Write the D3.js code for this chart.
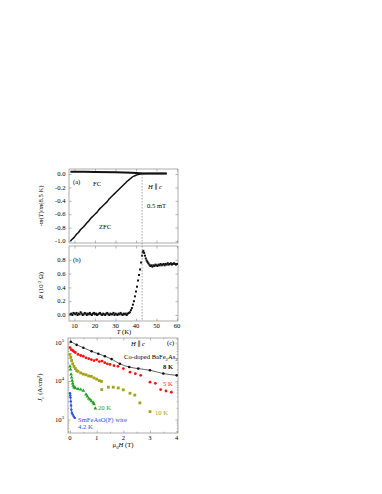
<!DOCTYPE html>
<html>
<head>
<meta charset="utf-8">
<script src="https://cdn.jsdelivr.net/npm/d3@7"></script>
<style>
  body { margin: 0; background: #fff; }
  text { font-family: "Liberation Serif", "DejaVu Serif", serif; }
</style>
</head>
<body>
<div id="container"></div>
<script>
// ---- data ----
// (a) normalised magnetisation [T (K), -m(T)/m(8.5K)]
const zfcCurve = [[8,-1.0],[9,-0.97],[10,-0.94],[11,-0.9],[12,-0.87],[13,-0.83],[14,-0.8],[15,-0.77],[16,-0.73],[17,-0.7],
  [18,-0.66],[19,-0.63],[20,-0.6],[21,-0.57],[22,-0.53],[23,-0.5],[24,-0.47],[25,-0.44],[26,-0.41],[27,-0.37],[28,-0.34],
  [29,-0.31],[30,-0.28],[31,-0.25],[32,-0.22],[33,-0.19],[34,-0.16],[35,-0.13],[36,-0.1],[37,-0.075],[38,-0.05],[39,-0.032],
  [40,-0.018],[41,-0.008],[42,0.0],[43,0.005],[45,0.008],[50,0.008],[55,0.008]]
const fcCurve = [[8,0.035],[15,0.033],[20,0.03],[30,0.025],[38,0.018],[42,0.012],[44,0.008],[50,0.008],[55,0.008]]
const tcLine = 43

// (b) resistance [T (K), R (10^-2 Ohm)]
const resistance = [[8,0.01],[8.5,0.02],[9,0.0],[9.5,0.03],[10,0.02],[10.5,0.01],[11,0.03],[11.5,0.0],[12,0.02],[12.5,0.01],
  [13,0.04],[13.5,0.02],[14,0.0],[14.5,0.01],[15,0.03],[15.5,0.02],[16,0.0],[16.5,0.02],[17,0.01],[17.5,0.03],[18,0.01],
  [18.5,0.0],[19,0.02],[19.5,0.03],[20,0.01],[20.5,0.02],[21,0.0],[21.5,0.01],[22,0.02],[22.5,0.03],[23,0.01],[23.5,0.0],
  [24,0.02],[24.5,0.01],[25,0.0],[25.5,0.02],[26,0.03],[26.5,0.01],[27,0.0],[27.5,0.02],[28,0.01],[28.5,0.01],[29,0.03],
  [29.5,0.0],[30,0.02],[30.5,0.01],[31,0.0],[31.5,0.02],[32,0.01],[32.5,0.03],[33,0.01],[33.5,0.0],[34,0.02],[34.5,0.01],
  [35,0.02],[35.5,0.0],[36,0.02],[36.5,0.03],[37,0.04],[37.5,0.07],[38,0.1],[38.5,0.15],[39,0.2],[39.5,0.27],[40,0.34],
  [40.5,0.41],[41,0.5],[41.5,0.58],[42,0.66],[42.5,0.76],[43,0.86],[43.3,0.91],[43.6,0.93],[44,0.9],[44.4,0.86],[44.8,0.82],
  [45.2,0.79],[45.6,0.77],[46,0.75],[46.5,0.73],[47,0.71],[47.5,0.72],[48,0.7],[48.5,0.72],[49,0.71],[49.5,0.73],[50,0.72],
  [50.5,0.71],[51,0.73],[51.5,0.72],[52,0.74],[52.5,0.72],[53,0.73],[53.5,0.74],[54,0.72],[54.5,0.74],[55,0.73],[55.5,0.75],
  [56,0.73],[56.5,0.74],[57,0.75],[57.5,0.73],[58,0.74],[58.5,0.75],[59,0.74],[59.5,0.73],[60,0.74]]

// (c) critical current density [mu0H (T), Jc (A/cm^2)]
const jcCo8K = [[0.03,105000],[0.25,87000],[0.5,73000],[0.81,59000],[1.06,51000],[1.31,44000],[1.56,37000],
  [1.87,28000],[2.22,23000],[2.56,21000],[3.0,19000],[3.5,15600],[4.0,14000]]
const jc5K = [[0.0,74000],[0.05,65000],[0.1,62000],[0.15,58000],[0.2,55000],[0.3,49000],[0.4,46000],[0.5,44000],
  [0.6,40000],[0.7,38000],[0.8,36000],[0.9,34000],[1.0,36000],[1.1,32000],[1.2,33000],[1.3,30000],[1.4,28000],
  [1.5,27000],[1.65,25000],[1.8,24000],[2.0,21000],[2.25,17000],[2.45,15500],[2.65,14000],[3.0,9300],[3.2,8700],
  [3.4,6000],[3.6,5500],[3.8,5100]]
const jc10K = [[0.0,49000],[0.03,41000],[0.06,34000],[0.1,28000],[0.15,24000],[0.2,21000],[0.25,18600],[0.3,17800],
  [0.4,16200],[0.5,15100],[0.6,14500],[0.7,13500],[0.8,13200],[0.9,12000],[1.0,11200],[1.1,10200],[1.18,9800],
  [1.19,6000],[1.44,6900],[1.62,6900],[1.81,6600],[2.0,5900],[2.25,4800],[2.43,4300],[2.62,2700],[3.0,1600]]
const jc20K = [[0.0,24000],[0.02,20000],[0.04,14800],[0.06,12300],[0.08,10200],[0.1,8700],[0.12,7600],[0.15,6800],
  [0.2,6500],[0.3,6200],[0.4,6000],[0.5,5600],[0.6,4500],[0.65,4000],[0.7,3500],[0.75,3300],[0.8,3000],[0.87,2750],
  [0.9,2500],[0.95,1950]]
const jcWire = [[0.0,4800],[0.01,4200],[0.02,3700],[0.03,2950],[0.04,2300],[0.05,1800],[0.07,1500],[0.1,1350],
  [0.14,1200],[0.18,1100]]

const tempTicks = [10, 20, 30, 40, 50, 60]
const magTicks = [0, -0.2, -0.4, -0.6, -0.8, -1.0]
const resTicks = [0, 0.2, 0.4, 0.6, 0.8]
const fieldTicks = [0, 1, 2, 3, 4]
const jcTicks = [1e3, 1e4, 1e5]

// ---- layout ----
const w = 382
const h = 494
const frameColor = '#8a8a8a'
const fs = 6.6

const svg = d3.select('#container').append('svg')
  .attr('width', w).attr('height', h)
  .style('background', 'white')

const panelA = { left: 69, right: 178, top: 169, bottom: 243 }
const panelB = { left: 69, right: 178, top: 246, bottom: 321 }
const panelC = { left: 68, right: 178, top: 338, bottom: 433 }

const scaleT = d3.scaleLinear().domain([7.32, 60.5]).range([panelA.left, panelA.right])
const scaleM = d3.scaleLinear().domain([-1.03, 0.075]).range([panelA.bottom, panelA.top])
const scaleR = d3.scaleLinear().domain([-0.087, 1.0]).range([panelB.bottom, panelB.top])
const scaleH = d3.scaleLinear().domain([-0.075, 4.05]).range([panelC.left, panelC.right])
const scaleJ = d3.scaleLog().domain([Math.pow(10, 2.649), Math.pow(10, 5.117)]).range([panelC.bottom, panelC.top])

const fmt = d => d3.format('.1f')(d).replace('−', '-')

// frame + inward ticks on all four sides
const drawFrame = (p, sx, sy, xTicks, yTicks, xMinor, yMinor) => {
  const g = svg.append('g')
  g.append('rect')
    .attr('x', p.left).attr('y', p.top)
    .attr('width', p.right - p.left).attr('height', p.bottom - p.top)
    .attr('fill', 'none').attr('stroke', frameColor).attr('stroke-width', 0.7)
  const axes = [
    [d3.axisBottom(sx).tickValues(xTicks).tickSizeInner(-2.5), `translate(0,${p.bottom})`],
    [d3.axisTop(sx).tickValues(xTicks).tickSizeInner(-2.5), `translate(0,${p.top})`],
    [d3.axisLeft(sy).tickValues(yTicks).tickSizeInner(-2.5), `translate(${p.left},0)`],
    [d3.axisRight(sy).tickValues(yTicks).tickSizeInner(-2.5), `translate(${p.right},0)`]
  ]
  if (xMinor) {
    axes.push([d3.axisBottom(sx).tickValues(xMinor).tickSizeInner(-1.3), `translate(0,${p.bottom})`])
    axes.push([d3.axisTop(sx).tickValues(xMinor).tickSizeInner(-1.3), `translate(0,${p.top})`])
  }
  if (yMinor) {
    axes.push([d3.axisLeft(sy).tickValues(yMinor).tickSizeInner(-1.3), `translate(${p.left},0)`])
    axes.push([d3.axisRight(sy).tickValues(yMinor).tickSizeInner(-1.3), `translate(${p.right},0)`])
  }
  axes.forEach(([axis, tr]) => {
    const a = g.append('g').attr('transform', tr).call(axis.tickSizeOuter(0).tickFormat(''))
    a.select('.domain').remove()
    a.selectAll('line').attr('stroke', frameColor).attr('stroke-width', 0.6)
  })
  return g
}

const leftLabels = (vals, sy, x, f) => {
  svg.append('g').selectAll('text').data(vals).enter().append('text')
    .attr('x', x).attr('y', d => sy(d)).attr('dy', '0.34em')
    .attr('text-anchor', 'end').attr('font-size', fs)
    .text(f)
}

const bottomLabels = (vals, sx, y, f) => {
  svg.append('g').selectAll('text').data(vals).enter().append('text')
    .attr('x', d => sx(d)).attr('y', y)
    .attr('text-anchor', 'middle').attr('font-size', fs)
    .text(f)
}

// ---------------- panel (a) ----------------
drawFrame(panelA, scaleT, scaleM, tempTicks, magTicks)
leftLabels(magTicks, scaleM, 65.5, d => fmt(d))

const lineA = d3.line().x(d => scaleT(d[0])).y(d => scaleM(d[1]))
svg.append('path').datum(fcCurve).attr('d', lineA)
  .attr('fill', 'none').attr('stroke', '#111').attr('stroke-width', 2)
svg.append('path').datum(zfcCurve).attr('d', lineA.curve(d3.curveMonotoneX))
  .attr('fill', 'none').attr('stroke', '#111').attr('stroke-width', 1.5)

svg.append('text').attr('x', 73).attr('y', 184).attr('font-size', fs).text('(a)')
svg.append('text').attr('x', 93).attr('y', 186).attr('font-size', fs).text('FC')
svg.append('text').attr('x', 99).attr('y', 229).attr('font-size', fs).text('ZFC')
const hc1 = svg.append('text').attr('x', 148).attr('y', 189).attr('font-size', fs)
hc1.append('tspan').attr('font-style', 'italic').text('H')
hc1.append('tspan').text(' \u2225 ')
hc1.append('tspan').attr('font-style', 'italic').text('c')
svg.append('text').attr('x', 147).attr('y', 208).attr('font-size', fs).text('0.5 mT')

const ylabA = svg.append('text')
  .attr('transform', `translate(43,${(panelA.top + panelA.bottom) / 2}) rotate(-90)`)
  .attr('text-anchor', 'middle').attr('font-size', fs)
ylabA.append('tspan').text('-')
ylabA.append('tspan').attr('font-style', 'italic').text('m')
ylabA.append('tspan').text('(')
ylabA.append('tspan').attr('font-style', 'italic').text('T')
ylabA.append('tspan').text(')/')
ylabA.append('tspan').attr('font-style', 'italic').text('m')
ylabA.append('tspan').text('(8.5 K)')

// ---------------- panel (b) ----------------
drawFrame(panelB, scaleT, scaleR, tempTicks, resTicks)
leftLabels(resTicks, scaleR, 65.5, d => fmt(d))
bottomLabels(tempTicks, scaleT, 328, d => d)

svg.append('g').selectAll('rect').data(resistance).enter().append('rect')
  .attr('x', d => scaleT(d[0]) - 1).attr('y', d => scaleR(d[1]) - 1)
  .attr('width', 2).attr('height', 2).attr('fill', '#111')

svg.append('text').attr('x', 73).attr('y', 262).attr('font-size', fs).text('(b)')

const xlabB = svg.append('text').attr('x', 124).attr('y', 333.5)
  .attr('text-anchor', 'middle').attr('font-size', fs)
xlabB.append('tspan').attr('font-style', 'italic').text('T')
xlabB.append('tspan').text(' (K)')

const ylabB = svg.append('text')
  .attr('transform', `translate(43,${(panelB.top + panelB.bottom) / 2 + 2}) rotate(-90)`)
  .attr('text-anchor', 'middle').attr('font-size', fs)
ylabB.append('tspan').attr('font-style', 'italic').text('R')
ylabB.append('tspan').text(' (10')
ylabB.append('tspan').attr('dy', -2.5).attr('font-size', fs * 0.7).text('-2')
ylabB.append('tspan').attr('dy', 2.5).text(' \u03a9)')

// dashed Tc line through (a) and (b)
svg.append('line')
  .attr('x1', scaleT(tcLine)).attr('x2', scaleT(tcLine))
  .attr('y1', scaleM(0)).attr('y2', panelB.bottom)
  .attr('stroke', '#666').attr('stroke-width', 0.6).attr('stroke-dasharray', '1.5,1.5')

// ---------------- panel (c) ----------------
const jcMinor = []
;[1e2, 1e3, 1e4, 1e5].forEach(dec => [2, 3, 4, 5, 6, 7, 8, 9].forEach(k => {
  const v = dec * k
  if (v > scaleJ.domain()[0] && v < scaleJ.domain()[1]) jcMinor.push(v)
}))
drawFrame(panelC, scaleH, scaleJ, fieldTicks, jcTicks, [0.5, 1.5, 2.5, 3.5], jcMinor)

const jcLab = svg.append('g').selectAll('text').data(jcTicks).enter().append('text')
  .attr('x', 64).attr('y', d => scaleJ(d)).attr('dy', '0.34em')
  .attr('text-anchor', 'end').attr('font-size', fs)
jcLab.append('tspan').text('10')
jcLab.append('tspan').attr('dy', -2.8).attr('font-size', fs * 0.72).text(d => Math.round(Math.log10(d)))
bottomLabels(fieldTicks, scaleH, 440, d => d)

const xlabC = svg.append('text').attr('x', 123).attr('y', 447)
  .attr('text-anchor', 'middle').attr('font-size', fs)
xlabC.append('tspan').text('\u03bc')
xlabC.append('tspan').attr('dy', 1.5).attr('font-size', fs * 0.72).text('0')
xlabC.append('tspan').attr('dy', -1.5).attr('font-style', 'italic').text('H')
xlabC.append('tspan').text(' (T)')

const ylabC = svg.append('text')
  .attr('transform', `translate(42,${(panelC.top + panelC.bottom) / 2 + 2}) rotate(-90)`)
  .attr('text-anchor', 'middle').attr('font-size', fs)
ylabC.append('tspan').attr('font-style', 'italic').text('J')
ylabC.append('tspan').attr('dy', 1.5).attr('font-size', fs * 0.72).text('c')
ylabC.append('tspan').attr('dy', -1.5).text(' (A/cm')
ylabC.append('tspan').attr('dy', -2.5).attr('font-size', fs * 0.72).text('2')
ylabC.append('tspan').attr('dy', 2.5).text(')')

const lineC = d3.line().x(d => scaleH(d[0])).y(d => scaleJ(d[1]))

// Co-doped BaFe2As2 at 8 K: line + dots
svg.append('path').datum(jcCo8K).attr('d', lineC.curve(d3.curveMonotoneX))
  .attr('fill', 'none').attr('stroke', '#222').attr('stroke-width', 0.7)
svg.append('g').selectAll('circle').data(jcCo8K).enter().append('circle')
  .attr('cx', d => scaleH(d[0])).attr('cy', d => scaleJ(d[1])).attr('r', 1.3).attr('fill', '#111')

// 5 K red dots
svg.append('g').selectAll('circle').data(jc5K).enter().append('circle')
  .attr('cx', d => scaleH(d[0])).attr('cy', d => scaleJ(d[1])).attr('r', 1.4).attr('fill', '#ff1010')

// 10 K olive squares
svg.append('g').selectAll('rect').data(jc10K).enter().append('rect')
  .attr('x', d => scaleH(d[0]) - 1.4).attr('y', d => scaleJ(d[1]) - 1.4)
  .attr('width', 2.8).attr('height', 2.8).attr('fill', '#a3a318')

// 20 K green triangles
svg.append('g').selectAll('path').data(jc20K).enter().append('path')
  .attr('d', d3.symbol().type(d3.symbolTriangle).size(6))
  .attr('transform', d => `translate(${scaleH(d[0])},${scaleJ(d[1])})`)
  .attr('fill', '#1f9e1f')

// SmFeAsO(F) wire at 4.2 K
svg.append('path').datum(jcWire).attr('d', lineC.curve(d3.curveLinear))
  .attr('fill', 'none').attr('stroke', '#2453f0').attr('stroke-width', 0.8)
svg.append('g').selectAll('circle').data(jcWire).enter().append('circle')
  .attr('cx', d => scaleH(d[0])).attr('cy', d => scaleJ(d[1])).attr('r', 1.2).attr('fill', '#2453f0')

// annotations
const hc2 = svg.append('text').attr('x', 131).attr('y', 346).attr('font-size', fs)
hc2.append('tspan').attr('font-style', 'italic').text('H')
hc2.append('tspan').text(' \u2225 ')
hc2.append('tspan').attr('font-style', 'italic').text('c')
svg.append('text').attr('x', 167).attr('y', 345).attr('font-size', fs).text('(c)')

const coLab = svg.append('text').attr('x', 124).attr('y', 359).attr('font-size', fs)
coLab.append('tspan').text('Co-doped BaFe')
coLab.append('tspan').attr('dy', 1.5).attr('font-size', fs * 0.72).text('2')
coLab.append('tspan').attr('dy', -1.5).text('As')
coLab.append('tspan').attr('dy', 1.5).attr('font-size', fs * 0.72).text('2')

svg.append('text').attr('x', 163).attr('y', 369).attr('font-size', fs).attr('font-weight', 'bold').attr('fill', '#111').text('8 K')
svg.append('text').attr('x', 163).attr('y', 386).attr('font-size', fs).attr('fill', '#ff1010').text('5 K')
svg.append('text').attr('x', 155).attr('y', 415).attr('font-size', fs).attr('fill', '#a3a318').text('10 K')
svg.append('text').attr('x', 98).attr('y', 410).attr('font-size', fs).attr('fill', '#1f9e1f').text('20 K')
svg.append('text').attr('x', 78).attr('y', 422).attr('font-size', fs).attr('fill', '#2453f0').text('SmFeAsO(F) wire')
svg.append('text').attr('x', 78).attr('y', 429).attr('font-size', fs).attr('fill', '#2453f0').text('4.2 K')
</script>
</body>
</html>
